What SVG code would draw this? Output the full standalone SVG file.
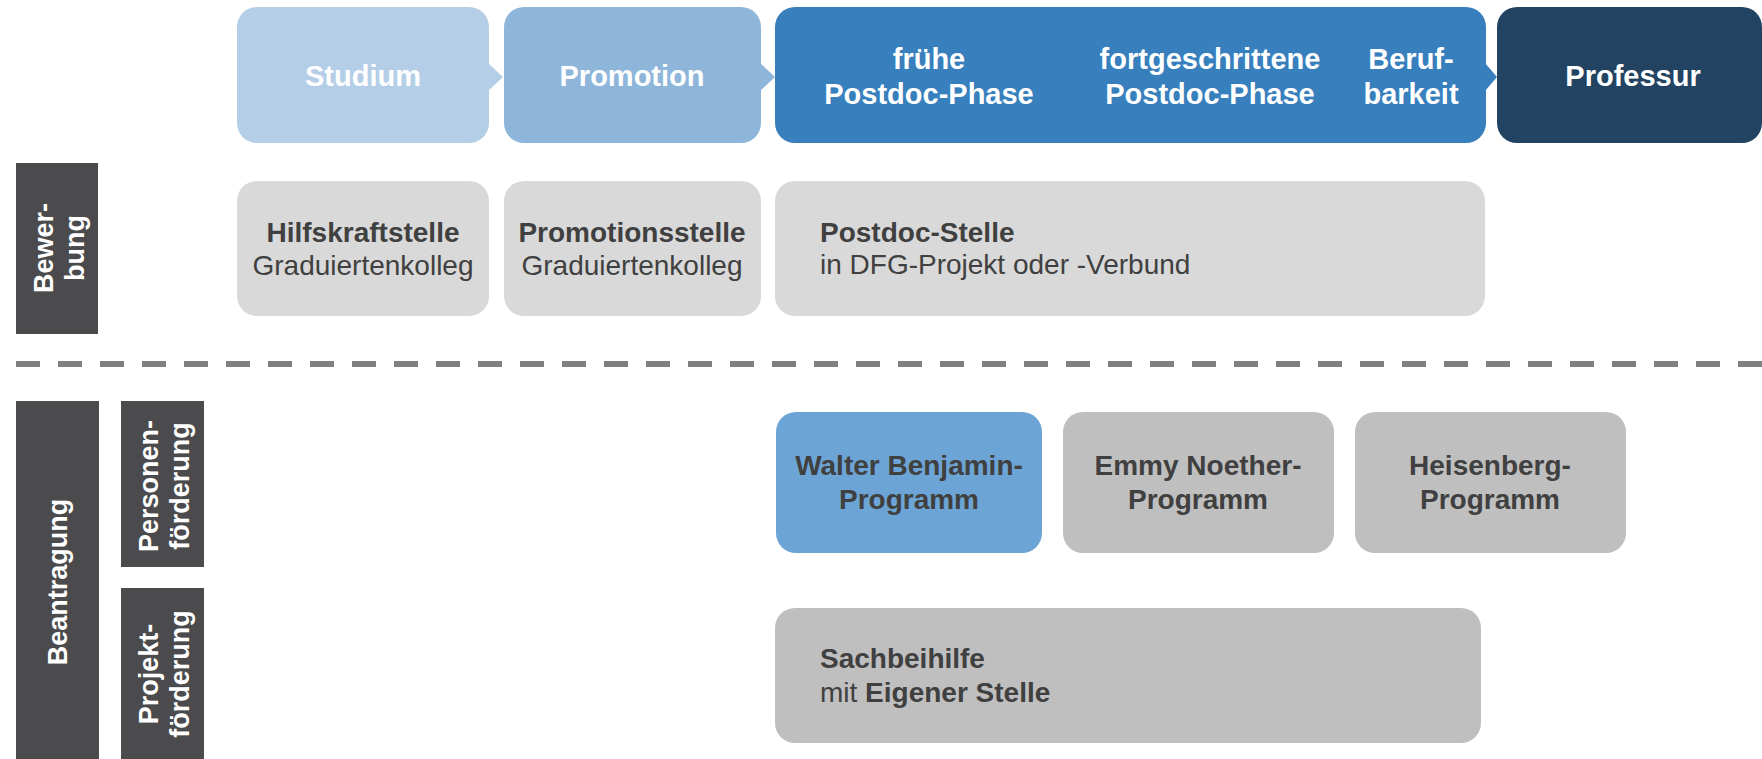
<svg xmlns="http://www.w3.org/2000/svg" width="1762" height="759" viewBox="0 0 1762 759">
<style>
text{font-family:"Liberation Sans",Arial,sans-serif}
.h{fill:#ffffff;font-weight:bold;font-size:29px;text-anchor:middle}
.lab{fill:#4b4b4d}
.lt{fill:#ffffff;font-weight:bold;font-size:27px;text-anchor:middle}
.g1{fill:#d9d9d9}
.g2{fill:#bfbfbf}
.t{fill:#404040;font-size:28px}
.b{font-weight:bold}
.c{text-anchor:middle}
</style>
<rect width="1762" height="759" fill="#ffffff"/>
<g id="studium">
<rect x="237" y="7" width="252" height="136" rx="20" fill="#b4cee7"/>
<polygon points="488,63 503,77 488,91" fill="#b4cee7"/>
<text class="h" x="363" y="86">Studium</text>
</g>
<g id="promotion">
<rect x="504" y="7" width="257" height="136" rx="20" fill="#8eb6da"/>
<polygon points="760,63 775,77 760,91" fill="#8eb6da"/>
<text class="h" x="632" y="86">Promotion</text>
</g>
<g id="postdoc-phase">
<rect x="775" y="7" width="711" height="136" rx="20" fill="#387fbd"/>
<polygon points="1485,63 1497,77 1485,91" fill="#387fbd"/>
<text class="h" x="929" y="69">frühe</text>
<text class="h" x="929" y="104">Postdoc-Phase</text>
<text class="h" x="1210" y="69">fortgeschrittene</text>
<text class="h" x="1210" y="104">Postdoc-Phase</text>
<text class="h" x="1411" y="69">Beruf-</text>
<text class="h" x="1411" y="104">barkeit</text>
</g>
<g id="professur">
<rect x="1497" y="7" width="265" height="136" rx="20" fill="#224462"/>
<text class="h" x="1633" y="86">Professur</text>
</g>
<g id="label-bewerbung">
<rect class="lab" x="16" y="163" width="82" height="171"/>
<text class="lt" transform="translate(53,248) rotate(-90)">Bewer-</text>
<text class="lt" transform="translate(84,248) rotate(-90)">bung</text>
</g>
<g id="hilfskraftstelle">
<rect class="g1" x="237" y="181" width="252" height="135" rx="20"/>
<text class="t b c" x="363" y="242">Hilfskraftstelle</text>
<text class="t c" x="363" y="275">Graduiertenkolleg</text>
</g>
<g id="promotionsstelle">
<rect class="g1" x="504" y="181" width="257" height="135" rx="20"/>
<text class="t b c" x="632" y="242">Promotionsstelle</text>
<text class="t c" x="632" y="275">Graduiertenkolleg</text>
</g>
<g id="postdoc-stelle">
<rect class="g1" x="775" y="181" width="710" height="135" rx="20"/>
<text class="t b" x="820" y="242">Postdoc-Stelle</text>
<text class="t" x="820" y="274">in DFG-Projekt oder -Verbund</text>
</g>
<g id="connectors">
<line x1="16" y1="364" x2="1762" y2="364" stroke="#808080" stroke-width="6" stroke-dasharray="24 18"/>
</g>
<g id="label-beantragung">
<rect class="lab" x="16" y="401" width="83" height="358"/>
<text class="lt" transform="translate(67,582) rotate(-90)">Beantragung</text>
</g>
<g id="label-personenfoerderung">
<rect class="lab" x="121" y="401" width="83" height="166"/>
<text class="lt" transform="translate(158,486) rotate(-90)">Personen-</text>
<text class="lt" transform="translate(189,486) rotate(-90)">förderung</text>
</g>
<g id="label-projektfoerderung">
<rect class="lab" x="121" y="588" width="83" height="171"/>
<text class="lt" transform="translate(158,674) rotate(-90)">Projekt-</text>
<text class="lt" transform="translate(189,674) rotate(-90)">förderung</text>
</g>
<g id="walter-benjamin">
<rect x="776" y="412" width="266" height="141" rx="20" fill="#6ca5d5"/>
<text class="t b c" x="909" y="475">Walter Benjamin-</text>
<text class="t b c" x="909" y="509">Programm</text>
</g>
<g id="emmy-noether">
<rect class="g2" x="1063" y="412" width="271" height="141" rx="20"/>
<text class="t b c" x="1198" y="475">Emmy Noether-</text>
<text class="t b c" x="1198" y="509">Programm</text>
</g>
<g id="heisenberg">
<rect class="g2" x="1355" y="412" width="271" height="141" rx="20"/>
<text class="t b c" x="1490" y="475">Heisenberg-</text>
<text class="t b c" x="1490" y="509">Programm</text>
</g>
<g id="sachbeihilfe">
<rect class="g2" x="775" y="608" width="706" height="135" rx="20"/>
<text class="t b" x="820" y="668">Sachbeihilfe</text>
<text class="t" x="820" y="702">mit <tspan class="b">Eigener Stelle</tspan></text>
</g>
</svg>
